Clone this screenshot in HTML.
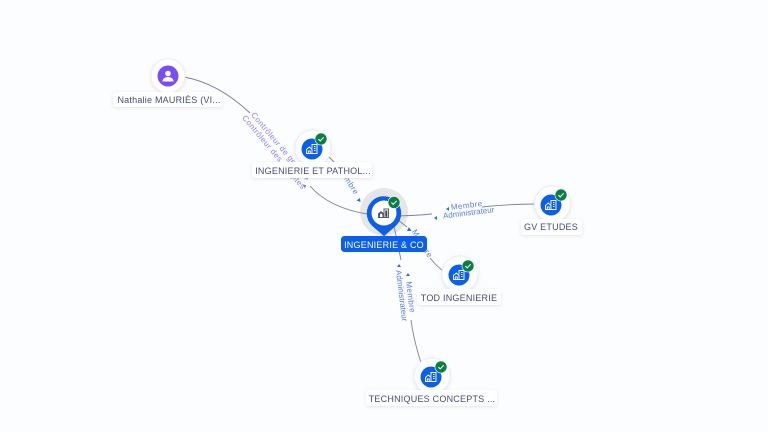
<!DOCTYPE html>
<html><head><meta charset="utf-8">
<style>
html,body{margin:0;padding:0;width:768px;height:432px;overflow:hidden;background:#fcfdff}
svg{display:block}
text{font-family:"Liberation Sans",sans-serif}
.n{font-size:9px;fill:#454a78;text-anchor:middle;letter-spacing:.22px}
.e{font-size:8px;fill:#5b7fe0;text-anchor:middle}
.m{letter-spacing:.4px}
.p{font-size:8px;fill:#8c80f0;letter-spacing:.4px}
.l{fill:none;stroke:#7d8299;stroke-width:.9}
.lab{fill:#fff;filter:url(#s)}
.halo{fill:#fff;stroke:#eeeef2;stroke-width:1;filter:url(#s)}
</style></head><body>
<svg width="768" height="432" viewBox="0 0 768 432" xmlns="http://www.w3.org/2000/svg">
<defs>
<filter id="s" x="-20%" y="-40%" width="140%" height="200%"><feDropShadow dx="0" dy="1" stdDeviation="1.5" flood-color="#9098b8" flood-opacity=".25"/></filter>
<g id="b" fill="none" stroke="#fff" stroke-width=".9"><path d="M-5.500,4.500V.5L-2.700,-2L0,.5V4.500ZM-3.700,4.500V2H-1.700V4.500M0,-.5V-4.500H5V4.500H0M2,-2.500H3.500M2,-.5H3.500M2,1.500H3.500"/></g>
<g id="c"><circle r="6" fill="#0b7f43" stroke="#fff" stroke-width=".6"/><path d="M-2.600,.1L-.8,1.900L2.700,-1.700" fill="none" stroke="#fff" stroke-width="1"/></g>
</defs>

<circle cx="384" cy="212" r="24" fill="#e6e6e9"/>

<path class="l" d="M184,77C212,82 234,98 250,113"/>
<path class="l" d="M310,186C322,200 342,210 367,214"/>
<path class="l" d="M328,156L338,166"/>
<path class="l" d="M398,216C412,215.500 422,215 432,214M482,207C500,205 518,204 537,204"/>
<path class="l" d="M398,220L407,227M430,258C434,263 438,267 443,271"/>
<path class="l" d="M394,226L401,260M411,320C413,336 417,350 421,363"/>

<text class="p" transform="translate(250.700,115) rotate(50)">Contrôleur de gestion</text>
<text class="p" transform="translate(241.700,118) rotate(50)">Contrôleur des comptes</text>
<path d="M305.500,176.500l3.500,.5l-2,3zM302.500,184.500l3.500,.5l-1,3.500z" fill="#7f73ea"/>
<g transform="translate(346,182) rotate(57)"><text class="e m">Membre</text></g>
<path d="M360,198l.5,4l-4,-1.500z" fill="#2a6fe0"/>
<g transform="translate(467,208) rotate(-7)"><text class="e m" y="0">Membre</text><text class="e" x="1" y="7.500">Administrateur</text></g>
<path d="M449,207l0,4l-3,-2zM437,216l0,4l-3,-2z" fill="#2a6fe0"/>
<g transform="translate(420,245) rotate(58)"><text class="e m">Membre</text></g>
<path d="M409,227l2.500,4h-4.500zM399,264l2,3h-4z" fill="#2a6fe0"/>
<g transform="translate(408,297.500) rotate(83)"><text class="e m">Membre</text></g>
<g transform="translate(399,296) rotate(83)"><text class="e">Administrateur</text></g>
<path d="M408,273l2,3h-4z" fill="#2a6fe0"/>

<circle class="halo" cx="168" cy="76" r="17"/>
<circle cx="168" cy="76" r="10.500" fill="#7a4df5"/>
<circle cx="168" cy="73.500" r="2.800" fill="#fff"/>
<path d="M162.500,81.500c0,-6 11,-6 11,0z" fill="#fff"/>
<rect class="lab" x="113" y="92" width="109" height="15" rx="3"/>
<text class="n" x="169" y="103">Nathalie MAURIÈS (VI...</text>

<circle class="halo" cx="313" cy="148" r="18"/>
<circle cx="312" cy="149" r="10.500" fill="#0b5fe8"/>
<use href="#b" x="312" y="149"/>
<use href="#c" x="321" y="139"/>
<rect class="lab" x="252" y="162" width="120" height="16" rx="3"/>
<text class="n" x="313" y="174">INGENIERIE ET PATHOL...</text>

<path d="M384,235.500L372.500,225.500A16.700,16.700 0 1 1 395.500,225.500Z" fill="#0b5fe8" stroke="#0b5fe8" stroke-width="1" stroke-linejoin="round"/>
<circle cx="384" cy="213" r="12.500" fill="#fff"/>
<g transform="translate(383.500,213)"><path d="M-5.500,5V0.500L-2.500,-2L0,0V-4.500H5.500V5Z" fill="#565b70"/><path d="M-3.500,4V1.500L-2.500,.5L-1,1.700V4ZM1,-3.500H4.500V4H1Z" fill="#fff"/><path d="M1.800,-2.500H3.800V3.800H1.800Z" fill="#3c4258"/></g>
<use href="#c" x="394" y="202.500"/>
<rect x="341" y="236" width="86" height="16" rx="3.500" fill="#0b5fe8"/>
<text class="n" x="384" y="248" style="fill:#fff">INGENIERIE &amp; CO</text>

<circle class="halo" cx="552.500" cy="204" r="18"/>
<circle cx="551" cy="205" r="10.500" fill="#0b5fe8"/>
<use href="#b" x="551" y="205"/>
<use href="#c" x="561" y="195"/>
<rect class="lab" x="521" y="219" width="61" height="16" rx="3"/>
<text class="n" x="551" y="230">GV ETUDES</text>

<circle class="halo" cx="460" cy="274" r="18"/>
<circle cx="459" cy="275" r="10.500" fill="#0b5fe8"/>
<use href="#b" x="459" y="275"/>
<use href="#c" x="468" y="266"/>
<rect class="lab" x="417" y="289" width="84" height="16" rx="3"/>
<text class="n" x="459" y="301">TOD INGENIERIE</text>

<circle class="halo" cx="432" cy="376" r="18"/>
<circle cx="431" cy="377" r="10.500" fill="#0b5fe8"/>
<use href="#b" x="431" y="377"/>
<use href="#c" x="441" y="367"/>
<rect class="lab" x="366" y="390" width="131" height="16" rx="3"/>
<text class="n" x="432" y="402">TECHNIQUES CONCEPTS ...</text>
</svg>
</body></html>
